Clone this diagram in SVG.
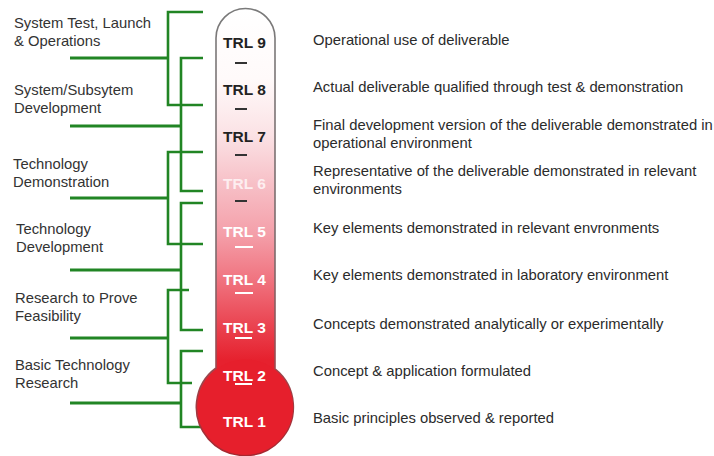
<svg xmlns="http://www.w3.org/2000/svg" width="714" height="456" viewBox="0 0 714 456">
  <style>
    text { font-family: "Liberation Sans", Arial, sans-serif; }
    .phase { font-size: 14.8px; fill: #333333; }
    .desc { font-size: 14.8px; fill: #2b2b2b; }
    .trl { font-size: 15.5px; font-weight: bold; text-anchor: middle; }
    .trl-dark { fill: #222222; }
    .trl-light { fill: #ffffff; }
    .trl-faint { fill: #fdeef0; }
    .bracket { fill: none; stroke: #218524; stroke-width: 2.6; stroke-linejoin: miter; }
    .stub { fill: none; stroke: #218524; stroke-width: 2.8; }
    .tick-dark { stroke: #333333; stroke-width: 2; }
    .tick-light { stroke: #ffffff; stroke-width: 2; }
  </style>
  <defs>
    <linearGradient id="tubeFill" gradientUnits="userSpaceOnUse" x1="0" y1="8" x2="0" y2="360">
      <stop offset="0" stop-color="#ffffff"/>
      <stop offset="0.2" stop-color="#fffafa"/>
      <stop offset="0.36" stop-color="#fbe2e5"/>
      <stop offset="0.5" stop-color="#f7c0c7"/>
      <stop offset="0.64" stop-color="#f4a0aa"/>
      <stop offset="0.77" stop-color="#f07480"/>
      <stop offset="0.9" stop-color="#ea4451"/>
      <stop offset="1" stop-color="#e6212e"/>
    </linearGradient>
    <linearGradient id="tubeEdge" gradientUnits="userSpaceOnUse" x1="0" y1="8" x2="0" y2="456">
      <stop offset="0" stop-color="#7a7a7a"/>
      <stop offset="0.55" stop-color="#7d6a6c"/>
      <stop offset="0.8" stop-color="#9a4a50"/>
      <stop offset="1" stop-color="#a8262f"/>
    </linearGradient>
  </defs>

  <!-- Brackets linking each development phase to its pair of TRL levels -->
  <g id="connectors">
    <!-- System Test, Launch & Operations: TRL 9-8 -->
    <path class="bracket" d="M203,12 H168 V105 H203"/>
    <line class="stub" x1="70" y1="58" x2="168" y2="58"/>
    <!-- System/Subsystem Development: TRL 8-7 -->
    <path class="bracket" d="M203,58 H181 V191 H203"/>
    <line class="stub" x1="70" y1="126" x2="181" y2="126"/>
    <!-- Technology Demonstration: TRL 7-6 -->
    <path class="bracket" d="M203,152 H168 V244 H203"/>
    <line class="stub" x1="70" y1="198" x2="168" y2="198"/>
    <!-- Technology Development: TRL 6-4 -->
    <path class="bracket" d="M203,203 H181 V330 H203"/>
    <line class="stub" x1="70" y1="270" x2="181" y2="270"/>
    <!-- Research to Prove Feasibility: TRL 4-2 -->
    <path class="bracket" d="M189,290 H168 V383 H192"/>
    <line class="stub" x1="70" y1="338" x2="168" y2="338"/>
    <!-- Basic Technology Research: TRL 2-1 -->
    <path class="bracket" d="M203,351 H181 V427 H201"/>
    <line class="stub" x1="70" y1="403" x2="181" y2="403"/>
  </g>

  <!-- Thermometer body: rounded tube ending in a bulb -->
  <g id="thermometer">
    <path d="M216,38 A29.5,29.5 0 0 1 275,38 L275,369 A48.5,48.5 0 1 1 216,368 Z"
          fill="url(#tubeFill)" stroke="url(#tubeEdge)" stroke-width="1.6"/>
    <circle cx="245.5" cy="407" r="47.6" fill="#e61f2c"/>
    <!-- scale ticks between levels -->
    <line class="tick-dark" x1="235" y1="63" x2="247" y2="63"/>
    <line class="tick-dark" x1="235" y1="109" x2="247" y2="109"/>
    <line class="tick-dark" x1="235" y1="155" x2="247" y2="155"/>
    <line class="tick-dark" x1="235" y1="201" x2="247" y2="201"/>
    <line class="tick-light" x1="235" y1="247" x2="253" y2="247"/>
    <line class="tick-light" x1="235" y1="293" x2="253" y2="293"/>
    <line class="tick-light" x1="235" y1="338" x2="252" y2="338"/>
    <line class="tick-light" x1="235" y1="384" x2="252" y2="384"/>
  </g>

  <g id="trl-9"><text class="trl trl-dark" x="244.5" y="48">TRL 9</text></g>
  <g id="trl-8"><text class="trl trl-dark" x="244.5" y="95">TRL 8</text></g>
  <g id="trl-7"><text class="trl trl-dark" x="244.5" y="142">TRL 7</text></g>
  <g id="trl-6"><text class="trl trl-faint" x="244.5" y="189">TRL 6</text></g>
  <g id="trl-5"><text class="trl trl-light" x="244.5" y="237">TRL 5</text></g>
  <g id="trl-4"><text class="trl trl-light" x="244.5" y="285">TRL 4</text></g>
  <g id="trl-3"><text class="trl trl-light" x="244.5" y="333">TRL 3</text></g>
  <g id="trl-2"><text class="trl trl-light" x="244.5" y="381">TRL 2</text></g>
  <g id="trl-1"><text class="trl trl-light" x="244.5" y="427">TRL 1</text></g>

  <!-- Development phases -->
  <g id="phase-system-test">
    <text class="phase" x="14" y="28">System Test, Launch</text>
    <text class="phase" x="14" y="46">&amp; Operations</text>
  </g>
  <g id="phase-system-development">
    <text class="phase" x="14" y="95">System/Subsytem</text>
    <text class="phase" x="14" y="113">Development</text>
  </g>
  <g id="phase-tech-demonstration">
    <text class="phase" x="13" y="169">Technology</text>
    <text class="phase" x="13" y="187">Demonstration</text>
  </g>
  <g id="phase-tech-development">
    <text class="phase" x="16" y="234">Technology</text>
    <text class="phase" x="16" y="252">Development</text>
  </g>
  <g id="phase-feasibility">
    <text class="phase" x="15" y="303">Research to Prove</text>
    <text class="phase" x="15" y="321">Feasibility</text>
  </g>
  <g id="phase-basic-research">
    <text class="phase" x="15" y="370">Basic Technology</text>
    <text class="phase" x="15" y="388">Research</text>
  </g>

  <!-- Level descriptions -->
  <g id="desc-9"><text class="desc" x="313" y="45">Operational use of deliverable</text></g>
  <g id="desc-8"><text class="desc" x="313" y="92">Actual deliverable qualified through test &amp; demonstration</text></g>
  <g id="desc-7">
    <text class="desc" x="313" y="130">Final development version of the deliverable demonstrated in</text>
    <text class="desc" x="313" y="148">operational environment</text>
  </g>
  <g id="desc-6">
    <text class="desc" x="313" y="176">Representative of the deliverable demonstrated in relevant</text>
    <text class="desc" x="313" y="194">environments</text>
  </g>
  <g id="desc-5"><text class="desc" x="313" y="233">Key elements demonstrated in relevant envronments</text></g>
  <g id="desc-4"><text class="desc" x="313" y="280">Key elements demonstrated in laboratory environment</text></g>
  <g id="desc-3"><text class="desc" x="313" y="329">Concepts demonstrated analytically or experimentally</text></g>
  <g id="desc-2"><text class="desc" x="313" y="376">Concept &amp; application formulated</text></g>
  <g id="desc-1"><text class="desc" x="313" y="423">Basic principles observed &amp; reported</text></g>
</svg>
